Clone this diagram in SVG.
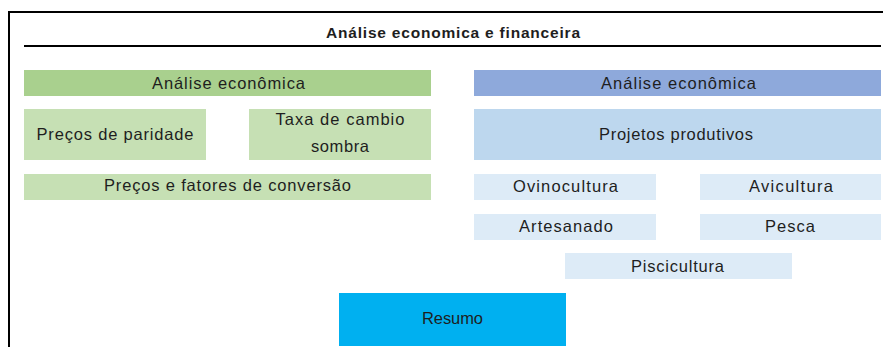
<svg xmlns="http://www.w3.org/2000/svg" width="883" height="347" viewBox="0 0 883 347">
<style>
  text { font-family: "Liberation Sans", Arial, sans-serif; font-size: 16.5px; fill: #1e1e1e; text-anchor: middle; }
  .title { font-weight: bold; font-size: 15.5px; }
  .frame { fill: none; stroke: #000; stroke-width: 2; }
  .g1 { fill: #A9D08E; }
  .g2 { fill: #C6E0B4; }
  .b1 { fill: #8EA9DB; }
  .b2 { fill: #BDD7EE; }
  .b3 { fill: #DDEBF7; }
  .r { fill: #00B0F0; }
</style>
<rect width="883" height="347" fill="#fff"/>
<g id="frame">
  <polyline class="frame" points="9,347 9,12 883,12"/>
  <line class="frame" x1="24" y1="46" x2="881" y2="46"/>
</g>
<g id="title">
  <text class="title" x="453" y="38" textLength="254" lengthAdjust="spacing">Análise economica e financeira</text>
</g>
<g id="left-header">
  <rect class="g1" x="24" y="70" width="407" height="26"/>
  <text x="228.5" y="89" textLength="153" lengthAdjust="spacing">Análise econômica</text>
</g>
<g id="precos-paridade">
  <rect class="g2" x="24" y="109" width="182" height="51"/>
  <text x="115" y="140" textLength="157" lengthAdjust="spacing">Preços de paridade</text>
</g>
<g id="taxa-cambio">
  <rect class="g2" x="249" y="109" width="182" height="51"/>
  <text x="340" y="125" textLength="129" lengthAdjust="spacing">Taxa de cambio</text>
  <text x="340" y="152" textLength="58" lengthAdjust="spacing">sombra</text>
</g>
<g id="precos-fatores">
  <rect class="g2" x="24" y="174" width="407" height="26"/>
  <text x="227.5" y="191" textLength="247" lengthAdjust="spacing">Preços e fatores de conversão</text>
</g>
<g id="right-header">
  <rect class="b1" x="474" y="70" width="407" height="26"/>
  <text x="678.5" y="89" textLength="155" lengthAdjust="spacing">Análise econômica</text>
</g>
<g id="projetos">
  <rect class="b2" x="474" y="109" width="407" height="51"/>
  <text x="676" y="140" textLength="154" lengthAdjust="spacing">Projetos produtivos</text>
</g>
<g id="ovinocultura">
  <rect class="b3" x="474" y="174" width="182" height="26"/>
  <text x="565.5" y="192" textLength="105" lengthAdjust="spacing">Ovinocultura</text>
</g>
<g id="avicultura">
  <rect class="b3" x="700" y="174" width="181" height="26"/>
  <text x="791" y="192" textLength="84" lengthAdjust="spacing">Avicultura</text>
</g>
<g id="artesanado">
  <rect class="b3" x="474" y="214" width="182" height="26"/>
  <text x="566" y="232" textLength="94" lengthAdjust="spacing">Artesanado</text>
</g>
<g id="pesca">
  <rect class="b3" x="700" y="214" width="181" height="26"/>
  <text x="790" y="232" textLength="50" lengthAdjust="spacing">Pesca</text>
</g>
<g id="piscicultura">
  <rect class="b3" x="565" y="253" width="227" height="26"/>
  <text x="677.5" y="272" textLength="93" lengthAdjust="spacing">Piscicultura</text>
</g>
<g id="resumo">
  <rect class="r" x="339" y="293" width="227" height="53"/>
  <text x="452.5" y="324" textLength="61" lengthAdjust="spacing">Resumo</text>
</g>
</svg>
